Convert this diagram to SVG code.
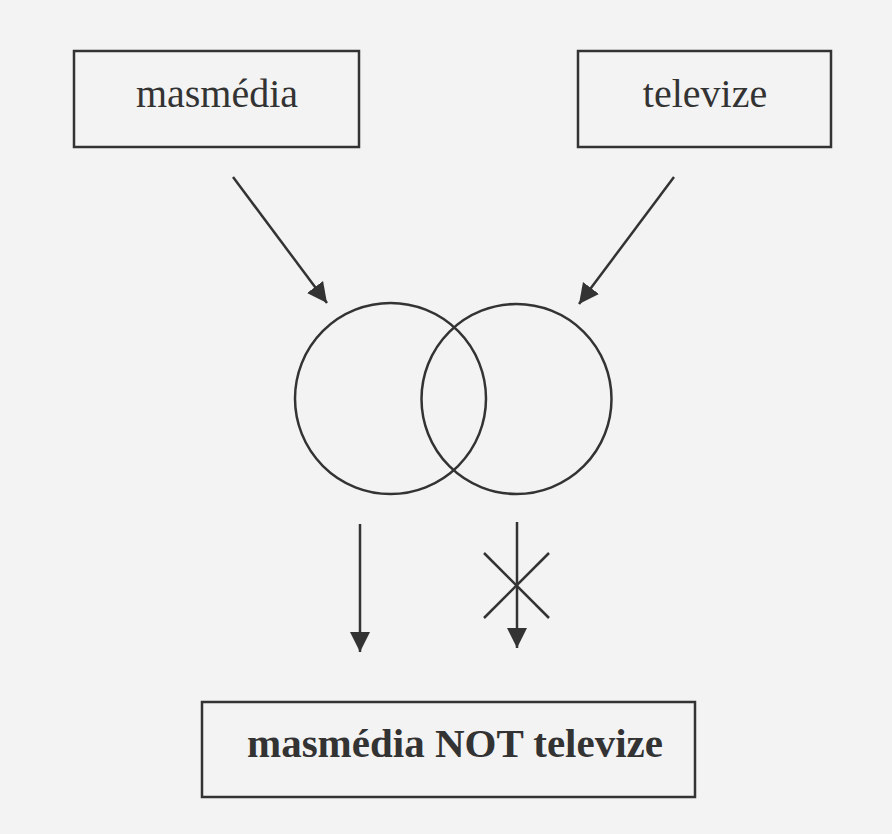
<svg xmlns="http://www.w3.org/2000/svg" width="892" height="834" viewBox="0 0 892 834">
  <defs>
    <style>
      .box { fill: none; stroke: #333; stroke-width: 2.5; }
      .line { fill: none; stroke: #333; stroke-width: 2.5; }
      .lbl { font-family: "Liberation Serif", "Times New Roman", serif; font-size: 40px; fill: #333; text-anchor: middle; }
      .bold { font-weight: bold; font-size: 41px; }
    </style>
    <marker id="arrow" viewBox="0 0 10 10" refX="10" refY="5" markerWidth="20" markerHeight="21" markerUnits="userSpaceOnUse" orient="auto">
      <path d="M0,0 L10,5 L0,10 Z" fill="#333"/>
    </marker>
  </defs>
  <rect x="0" y="0" width="892" height="834" fill="#f3f3f3"/>

  <g id="node-masmedia">
    <rect class="box" x="74" y="51" width="285" height="96"/>
    <text class="lbl" x="217" y="107">masmédia</text>
  </g>
  <g id="node-televize">
    <rect class="box" x="578" y="51" width="253" height="96"/>
    <text class="lbl" x="705" y="107">televize</text>
  </g>
  <g id="node-venn">
    <circle class="line" cx="390.5" cy="398.5" r="95.5"/>
    <circle class="line" cx="516.5" cy="399" r="95"/>
  </g>
  <g id="node-result">
    <rect class="box" x="202" y="702" width="493" height="95"/>
    <text class="lbl bold" x="455" y="757">masmédia NOT televize</text>
  </g>

  <g id="connectors">
    <line class="line" x1="233" y1="177" x2="327" y2="303" marker-end="url(#arrow)"/>
    <line class="line" x1="674" y1="177" x2="579" y2="304" marker-end="url(#arrow)"/>
    <line class="line" x1="360" y1="524" x2="360" y2="652" marker-end="url(#arrow)"/>
    <line class="line" x1="517" y1="522" x2="517" y2="648" marker-end="url(#arrow)"/>
    <line class="line" x1="484" y1="553" x2="549" y2="618"/>
    <line class="line" x1="549" y1="553" x2="484" y2="618"/>
  </g>
</svg>
